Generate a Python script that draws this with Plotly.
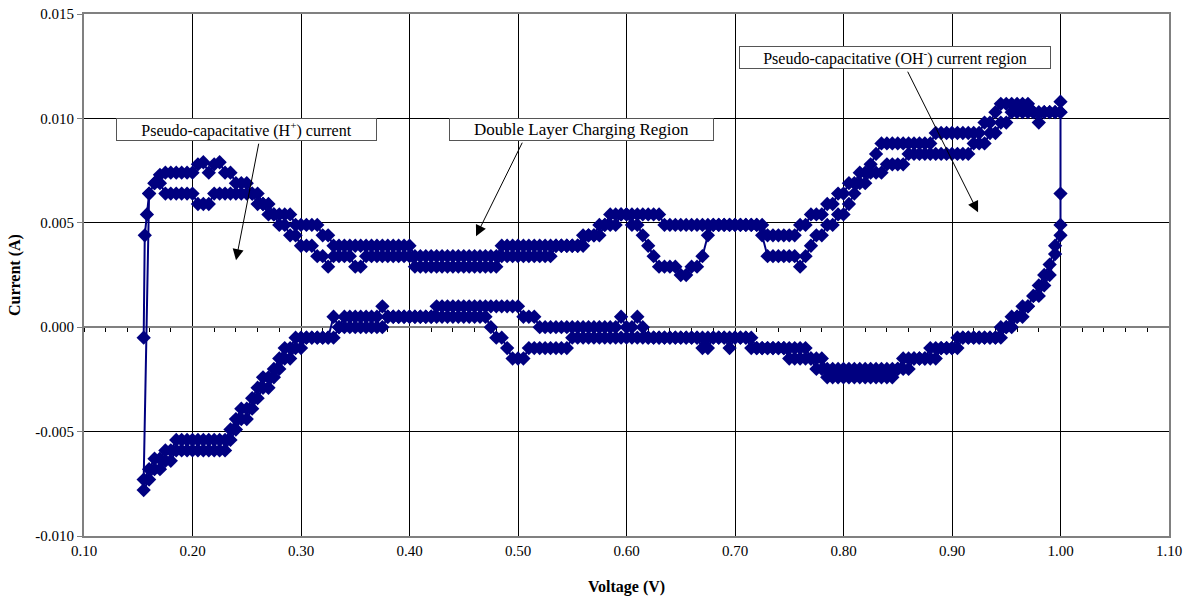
import plotly.graph_objects as go

# Voltage grid (V) shared by every sweep
VOLTAGE = [
    0.160, 0.165, 0.170, 0.175, 0.180, 0.185, 0.190, 0.195, 0.200, 0.205,
    0.210, 0.215, 0.220, 0.225, 0.230, 0.235, 0.240, 0.245, 0.250, 0.255,
    0.260, 0.265, 0.270, 0.275, 0.280, 0.285, 0.290, 0.295, 0.300, 0.305,
    0.310, 0.315, 0.320, 0.325, 0.330, 0.335, 0.340, 0.345, 0.350, 0.355,
    0.360, 0.365, 0.370, 0.375, 0.380, 0.385, 0.390, 0.395, 0.400, 0.405,
    0.410, 0.415, 0.420, 0.425, 0.430, 0.435, 0.440, 0.445, 0.450, 0.455,
    0.460, 0.465, 0.470, 0.475, 0.480, 0.485, 0.490, 0.495, 0.500, 0.505,
    0.510, 0.515, 0.520, 0.525, 0.530, 0.535, 0.540, 0.545, 0.550, 0.555,
    0.560, 0.565, 0.570, 0.575, 0.580, 0.585, 0.590, 0.595, 0.600, 0.605,
    0.610, 0.615, 0.620, 0.625, 0.630, 0.635, 0.640, 0.645, 0.650, 0.655,
    0.660, 0.665, 0.670, 0.675, 0.680, 0.685, 0.690, 0.695, 0.700, 0.705,
    0.710, 0.715, 0.720, 0.725, 0.730, 0.735, 0.740, 0.745, 0.750, 0.755,
    0.760, 0.765, 0.770, 0.775, 0.780, 0.785, 0.790, 0.795, 0.800, 0.805,
    0.810, 0.815, 0.820, 0.825, 0.830, 0.835, 0.840, 0.845, 0.850, 0.855,
    0.860, 0.865, 0.870, 0.875, 0.880, 0.885, 0.890, 0.895, 0.900, 0.905,
    0.910, 0.915, 0.920, 0.925, 0.930, 0.935, 0.940, 0.945, 0.950, 0.955,
    0.960, 0.965, 0.970, 0.975, 0.980, 0.985, 0.990, 0.995, 1.000,
]

# Anodic sweep, cycle 1 (current in A, on VOLTAGE grid)
I_ANODIC_1 = [
    0.0064, 0.0069, 0.0073, 0.0074, 0.0074, 0.0074, 0.0074, 0.0074, 0.0074, 0.0078,
    0.0079, 0.0074, 0.0078, 0.0079, 0.0074, 0.0074, 0.0069, 0.0069, 0.0069, 0.0064,
    0.0064, 0.0059, 0.0059, 0.0054, 0.0054, 0.0054, 0.0054, 0.0049, 0.0049, 0.0049,
    0.0049, 0.0049, 0.0044, 0.0044, 0.0039, 0.0039, 0.0039, 0.0039, 0.0039, 0.0039,
    0.0039, 0.0039, 0.0039, 0.0039, 0.0039, 0.0039, 0.0039, 0.0039, 0.0039, 0.0034,
    0.0034, 0.0034, 0.0034, 0.0034, 0.0034, 0.0034, 0.0034, 0.0034, 0.0034, 0.0034,
    0.0034, 0.0034, 0.0034, 0.0034, 0.0034, 0.0039, 0.0039, 0.0039, 0.0039, 0.0039,
    0.0039, 0.0039, 0.0039, 0.0039, 0.0039, 0.0039, 0.0039, 0.0039, 0.0039, 0.0039,
    0.0044, 0.0044, 0.0044, 0.0049, 0.0049, 0.0054, 0.0054, 0.0054, 0.0054, 0.0054,
    0.0054, 0.0054, 0.0054, 0.0054, 0.0054, 0.0049, 0.0049, 0.0049, 0.0049, 0.0049,
    0.0049, 0.0049, 0.0049, 0.0049, 0.0049, 0.0049, 0.0049, 0.0049, 0.0049, 0.0049,
    0.0049, 0.0049, 0.0049, 0.0049, 0.0044, 0.0044, 0.0044, 0.0044, 0.0044, 0.0044,
    0.0049, 0.0049, 0.0054, 0.0054, 0.0054, 0.0059, 0.0059, 0.0064, 0.0064, 0.0069,
    0.0069, 0.0074, 0.0074, 0.0078, 0.0083, 0.0088, 0.0088, 0.0088, 0.0088, 0.0088,
    0.0088, 0.0088, 0.0088, 0.0088, 0.0088, 0.0093, 0.0093, 0.0093, 0.0093, 0.0093,
    0.0093, 0.0093, 0.0093, 0.0093, 0.0098, 0.0098, 0.0103, 0.0107, 0.0107, 0.0107,
    0.0107, 0.0107, 0.0107, 0.0103, 0.0103, 0.0103, 0.0103, 0.0103, 0.0103,
]

# Anodic sweep, cycle 2
I_ANODIC_2 = [
    0.0064, 0.0069, 0.0069, 0.0064, 0.0064, 0.0064, 0.0064, 0.0064, 0.0064, 0.0059,
    0.0059, 0.0059, 0.0064, 0.0064, 0.0064, 0.0064, 0.0064, 0.0064, 0.0064, 0.0064,
    0.0059, 0.0059, 0.0054, 0.0054, 0.0049, 0.0049, 0.0044, 0.0044, 0.0039, 0.0039,
    0.0039, 0.0034, 0.0034, 0.0029, 0.0034, 0.0034, 0.0034, 0.0034, 0.0029, 0.0029,
    0.0034, 0.0034, 0.0034, 0.0034, 0.0034, 0.0034, 0.0034, 0.0034, 0.0034, 0.0029,
    0.0029, 0.0029, 0.0029, 0.0029, 0.0029, 0.0029, 0.0029, 0.0029, 0.0029, 0.0029,
    0.0029, 0.0029, 0.0029, 0.0029, 0.0029, 0.0034, 0.0034, 0.0034, 0.0034, 0.0034,
    0.0034, 0.0034, 0.0034, 0.0034, 0.0034, 0.0039, 0.0039, 0.0039, 0.0039, 0.0039,
    0.0039, 0.0044, 0.0044, 0.0044, 0.0049, 0.0049, 0.0049, 0.0054, 0.0054, 0.0049,
    0.0049, 0.0044, 0.0039, 0.0034, 0.0029, 0.0029, 0.0029, 0.0029, 0.0025, 0.0025,
    0.0029, 0.0029, 0.0034, 0.0044, 0.0049, 0.0049, 0.0049, 0.0049, 0.0049, 0.0049,
    0.0049, 0.0049, 0.0049, 0.0044, 0.0034, 0.0034, 0.0034, 0.0034, 0.0034, 0.0034,
    0.0029, 0.0034, 0.0039, 0.0044, 0.0044, 0.0049, 0.0049, 0.0054, 0.0054, 0.0059,
    0.0064, 0.0069, 0.0069, 0.0074, 0.0074, 0.0074, 0.0078, 0.0078, 0.0078, 0.0078,
    0.0083, 0.0083, 0.0083, 0.0083, 0.0083, 0.0083, 0.0083, 0.0083, 0.0083, 0.0083,
    0.0083, 0.0083, 0.0088, 0.0088, 0.0088, 0.0093, 0.0093, 0.0098, 0.0098, 0.0103,
    0.0103, 0.0103, 0.0103, 0.0103, 0.0098, 0.0103, 0.0103, 0.0103, 0.0103,
]

# Cathodic sweep, cycle 1 (listed in ascending voltage order)
I_CATHODIC_1 = [
    -0.0068, -0.0063, -0.0063, -0.0059, -0.0059, -0.0054, -0.0054, -0.0054, -0.0054, -0.0054,
    -0.0054, -0.0054, -0.0054, -0.0054, -0.0054, -0.0049, -0.0044, -0.0039, -0.0039, -0.0034,
    -0.0029, -0.0024, -0.0024, -0.0020, -0.0015, -0.0010, -0.0010, -0.0005, -0.0005, -0.0005,
    -0.0005, -0.0005, -0.0005, -0.0005, -0.0005, 0.0000, 0.0005, 0.0005, 0.0005, 0.0005,
    0.0005, 0.0005, 0.0005, 0.0010, 0.0005, 0.0005, 0.0005, 0.0005, 0.0005, 0.0005,
    0.0005, 0.0005, 0.0005, 0.0010, 0.0010, 0.0010, 0.0010, 0.0010, 0.0010, 0.0010,
    0.0010, 0.0010, 0.0010, 0.0010, 0.0010, 0.0010, 0.0010, 0.0010, 0.0010, 0.0005,
    0.0005, 0.0005, 0.0000, 0.0000, 0.0000, 0.0000, 0.0000, 0.0000, 0.0000, 0.0000,
    0.0000, 0.0000, 0.0000, 0.0000, 0.0000, 0.0000, 0.0000, 0.0005, 0.0000, 0.0000,
    0.0005, 0.0000, -0.0005, -0.0005, -0.0005, -0.0005, -0.0005, -0.0005, -0.0005, -0.0005,
    -0.0005, -0.0005, -0.0010, -0.0005, -0.0005, -0.0005, -0.0005, -0.0005, -0.0005, -0.0005,
    -0.0005, -0.0005, -0.0010, -0.0010, -0.0010, -0.0010, -0.0010, -0.0010, -0.0010, -0.0010,
    -0.0010, -0.0010, -0.0015, -0.0015, -0.0015, -0.0020, -0.0020, -0.0020, -0.0020, -0.0020,
    -0.0020, -0.0020, -0.0020, -0.0020, -0.0020, -0.0020, -0.0020, -0.0020, -0.0020, -0.0015,
    -0.0015, -0.0015, -0.0015, -0.0015, -0.0010, -0.0010, -0.0010, -0.0010, -0.0010, -0.0005,
    -0.0005, -0.0005, -0.0005, -0.0005, -0.0005, -0.0005, -0.0005, 0.0000, 0.0000, 0.0005,
    0.0005, 0.0010, 0.0010, 0.0015, 0.0020, 0.0025, 0.0030, 0.0039, 0.0049,
]

# Cathodic sweep, cycle 2 (listed in ascending voltage order)
I_CATHODIC_2 = [
    -0.0073, -0.0068, -0.0068, -0.0064, -0.0064, -0.0059, -0.0059, -0.0059, -0.0059, -0.0059,
    -0.0059, -0.0059, -0.0059, -0.0059, -0.0059, -0.0054, -0.0049, -0.0044, -0.0044, -0.0039,
    -0.0034, -0.0029, -0.0029, -0.0024, -0.0020, -0.0015, -0.0015, -0.0010, -0.0010, -0.0005,
    -0.0005, -0.0005, -0.0005, -0.0005, 0.0005, 0.0000, 0.0000, 0.0000, 0.0000, 0.0000,
    0.0000, 0.0000, 0.0000, 0.0000, 0.0005, 0.0005, 0.0005, 0.0005, 0.0005, 0.0005,
    0.0005, 0.0005, 0.0005, 0.0005, 0.0005, 0.0005, 0.0005, 0.0005, 0.0005, 0.0005,
    0.0005, 0.0005, 0.0005, 0.0000, -0.0005, -0.0005, -0.0010, -0.0015, -0.0015, -0.0015,
    -0.0010, -0.0010, -0.0010, -0.0010, -0.0010, -0.0010, -0.0010, -0.0010, -0.0005, -0.0005,
    -0.0005, -0.0005, -0.0005, -0.0005, -0.0005, -0.0005, -0.0005, -0.0005, -0.0005, -0.0005,
    -0.0005, -0.0005, -0.0005, -0.0005, -0.0005, -0.0005, -0.0005, -0.0005, -0.0005, -0.0005,
    -0.0005, -0.0005, -0.0005, -0.0010, -0.0005, -0.0005, -0.0005, -0.0010, -0.0005, -0.0005,
    -0.0005, -0.0010, -0.0010, -0.0010, -0.0010, -0.0010, -0.0010, -0.0010, -0.0015, -0.0015,
    -0.0015, -0.0015, -0.0015, -0.0020, -0.0020, -0.0024, -0.0024, -0.0024, -0.0024, -0.0024,
    -0.0024, -0.0024, -0.0024, -0.0024, -0.0024, -0.0024, -0.0024, -0.0024, -0.0020, -0.0020,
    -0.0020, -0.0015, -0.0015, -0.0015, -0.0015, -0.0015, -0.0010, -0.0010, -0.0010, -0.0010,
    -0.0005, -0.0005, -0.0005, -0.0005, -0.0005, -0.0005, -0.0005, -0.0005, 0.0000, 0.0000,
    0.0005, 0.0005, 0.0010, 0.0015, 0.0015, 0.0020, 0.0025, 0.0035, 0.0044,
]

# Points at the switching potentials
START_V = [0.155, 0.156, 0.158]
START_I = [-0.0005, 0.0044, 0.0054]
TURN_V = [1.000, 1.000]
TURN_I = [0.0108, 0.0064]
END1_V = [0.155]
END1_I = [-0.0073]
END2_V = [0.155]
END2_I = [-0.0078]

X_TICKS = [0.10, 0.20, 0.30, 0.40, 0.50, 0.60, 0.70, 0.80, 0.90, 1.00, 1.10]
X_LABELS = ["0.10", "0.20", "0.30", "0.40", "0.50", "0.60", "0.70", "0.80", "0.90", "1.00", "1.10"]
Y_TICKS = [-0.010, -0.005, 0.000, 0.005, 0.010, 0.015]
Y_LABELS = ["-0.010", "-0.005", "0.000", "0.005", "0.010", "0.015"]

rev_v = VOLTAGE[::-1]
xs = START_V + VOLTAGE + TURN_V + rev_v + END1_V + VOLTAGE + rev_v + END2_V
ys = (START_I + I_ANODIC_1 + TURN_I + I_CATHODIC_1[::-1] + END1_I
      + I_ANODIC_2 + I_CATHODIC_2[::-1] + END2_I)

NAVY = "#000080"
SERIF = "Liberation Serif"

fig = go.Figure()
fig.add_trace(go.Scatter(
    x=xs, y=ys, mode="lines+markers",
    line=dict(color=NAVY, width=2),
    marker=dict(symbol="diamond", size=11, color=NAVY, line=dict(width=0)),
    showlegend=False, hoverinfo="skip",
))
# helper trace so the zero-crossing x axis is drawn
fig.add_trace(go.Scatter(x=[None], y=[None], xaxis="x2", yaxis="y",
                         showlegend=False, hoverinfo="skip"))

fig.update_layout(
    width=1192, height=600,
    margin=dict(l=84, r=23, t=14, b=64, autoexpand=False),
    paper_bgcolor="white", plot_bgcolor="white",
    font=dict(family=SERIF, size=15, color="black"),
    xaxis=dict(
        range=[0.1, 1.1], tickvals=X_TICKS, ticktext=X_LABELS,
        showgrid=True, gridcolor="black", gridwidth=1,
        showline=True, mirror=True, linecolor="#808080", linewidth=2,
        ticks="", zeroline=False, automargin=False, ticklabeloverflow="allow",
        tickfont=dict(family=SERIF, size=15, color="black"),
    ),
    xaxis2=dict(
        range=[0.1, 1.1], overlaying="x", anchor="free", position=0.4,
        side="bottom", showline=True, linecolor="#808080", linewidth=2,
        ticks="outside", ticklen=4, tickcolor="black", tickwidth=1,
        tick0=0.1, dtick=0.02, showticklabels=False, showgrid=False,
        zeroline=False, automargin=False, layer="below traces",
    ),
    yaxis=dict(
        range=[-0.010, 0.015], tickvals=Y_TICKS, ticktext=Y_LABELS,
        showgrid=True, gridcolor="black", gridwidth=1,
        showline=True, mirror=True, linecolor="#808080", linewidth=2,
        ticks="outside", ticklen=5, tickcolor="#808080", zeroline=False,
        automargin=False, ticklabeloverflow="allow",
        tickfont=dict(family=SERIF, size=15, color="black"),
    ),
)

annotations = [
    dict(text="<b>Voltage (V)</b>", xref="paper", yref="paper", x=0.5, y=-0.098,
         xanchor="center", yanchor="middle", showarrow=False,
         font=dict(family=SERIF, size=16, color="black")),
    dict(text="<b>Current (A)</b>", xref="paper", yref="paper", x=-0.0636, y=0.5,
         xanchor="center", yanchor="middle", textangle=-90, showarrow=False,
         font=dict(family=SERIF, size=16, color="black")),
]

boxes = [
    ("Pseudo-capacitative (H<sup>+</sup>) current", 0.2498, 0.009459, 259, 16),
    ("Double Layer Charging Region", 0.5585, 0.009483, 263, 17),
    ("Pseudo-capacitative (OH<sup>-</sup>) current region", 0.8475, 0.012907, 310, 16),
]
for text, bx, by, w, fs in boxes:
    annotations.append(dict(
        text=text, x=bx, y=by, xref="x", yref="y", showarrow=False,
        xanchor="center", yanchor="middle",
        width=w, height=21, align="center", valign="middle",
        bgcolor="white", bordercolor="#555555", borderwidth=1, borderpad=0,
        font=dict(family=SERIF, size=fs, color="black"),
    ))

arrows = [
    (0.2401, 0.003209, 0.2613, 0.00886),
    (0.4613, 0.004358, 0.5046, 0.008908),
    (0.9240, 0.005508, 0.8585, 0.012308),
]
for tx, ty, sx, sy in arrows:
    annotations.append(dict(
        text="", x=tx, y=ty, ax=sx, ay=sy, xref="x", yref="y",
        axref="x", ayref="y", showarrow=True, arrowhead=2, arrowsize=2.2,
        arrowwidth=1, arrowcolor="black", standoff=0, startstandoff=0,
    ))

fig.update_layout(annotations=annotations)
fig.write_html("out.html", config={"displayModeBar": False},
               post_script="document.body.style.margin='0';")
